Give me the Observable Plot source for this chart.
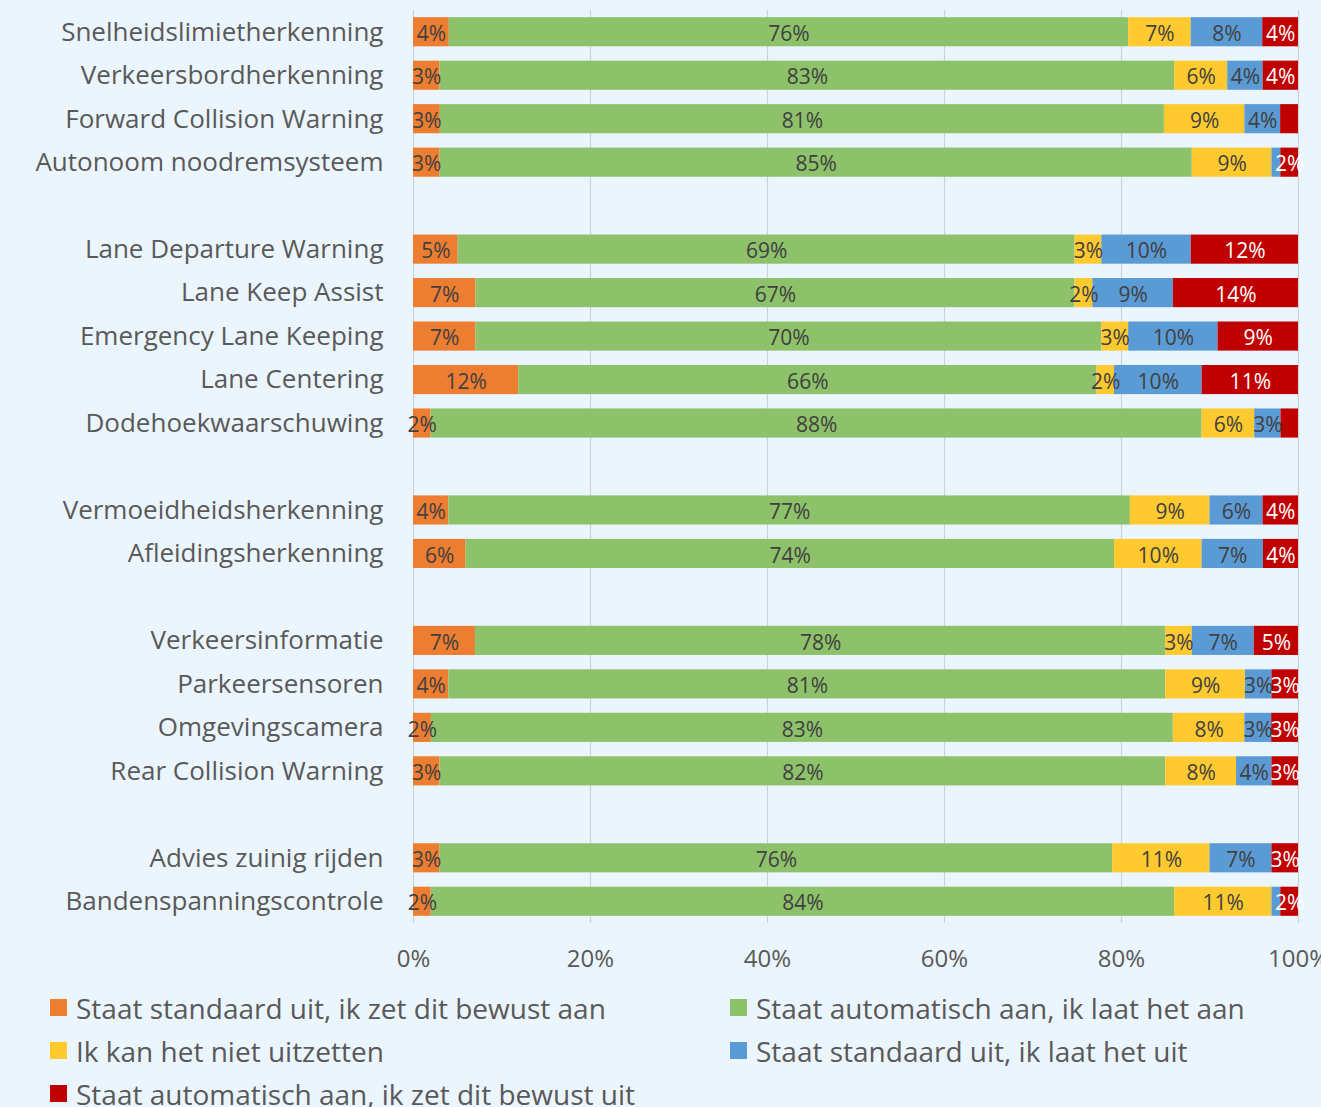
<!DOCTYPE html>
<html>
<head>
<meta charset="utf-8">
<script src="https://cdn.jsdelivr.net/npm/d3@7"></script>
<script src="https://cdn.jsdelivr.net/npm/@observablehq/plot@0.6"></script>
<style>
  html, body { margin: 0; padding: 0; background: #EBF5FD; }
  body { width: 1321px; height: 1107px; overflow: hidden; font-family: "Open Sans", sans-serif; }
  #legend { display: grid; grid-template-columns: 680px 580px; margin-left: 50px; margin-top: 8px; row-gap: 0; }
  .item { display: flex; align-items: center; height: 43px; font-size: 28px; color: #595959; white-space: nowrap; }
  .sw { width: 17px; height: 17px; margin-right: 9px; flex: none; }
</style>
</head>
<body>
<div id="chart"></div>
<div id="legend"></div>
<script>
// Categories (top to bottom); "gap" entries are blank spacer rows between groups
const categories = [
  "Snelheidslimietherkenning", "Verkeersbordherkenning", "Forward Collision Warning", "Autonoom noodremsysteem",
  "gap1",
  "Lane Departure Warning", "Lane Keep Assist", "Emergency Lane Keeping", "Lane Centering", "Dodehoekwaarschuwing",
  "gap2",
  "Vermoeidheidsherkenning", "Afleidingsherkenning",
  "gap3",
  "Verkeersinformatie", "Parkeersensoren", "Omgevingscamera", "Rear Collision Warning",
  "gap4",
  "Advies zuinig rijden", "Bandenspanningscontrole"
];
const features = categories.filter(c => !c.startsWith("gap"));

const seriesNames = [
  "Staat standaard uit, ik zet dit bewust aan",
  "Staat automatisch aan, ik laat het aan",
  "Ik kan het niet uitzetten",
  "Staat standaard uit, ik laat het uit",
  "Staat automatisch aan, ik zet dit bewust uit"
];
const seriesColors = ["#ED7D31", "#8DC26A", "#FFC930", "#5B9BD5", "#C00000"];

// Values per series, in the order of `features`
const standaardUitAan   = [4, 3, 3, 3, 5, 7, 7, 12, 2, 4, 6, 7, 4, 2, 3, 3, 2];
const automatischAan    = [76, 83, 81, 85, 69, 67, 70, 66, 88, 77, 74, 78, 81, 83, 82, 76, 84];
const nietUitzetten     = [7, 6, 9, 9, 3, 2, 3, 2, 6, 9, 10, 3, 9, 8, 8, 11, 11];
const standaardUitUit   = [8, 4, 4, 1, 10, 9, 10, 10, 3, 6, 7, 7, 3, 3, 4, 7, 1];
const automatischAanUit = [4, 4, 2, 2, 12, 14, 9, 11, 2, 4, 4, 5, 3, 3, 3, 3, 2];

// Segments drawn without a value label in the picture: [feature, series index]
const unlabeled = [
  ["Forward Collision Warning", 4],
  ["Autonoom noodremsysteem", 3],
  ["Dodehoekwaarschuwing", 4],
  ["Bandenspanningscontrole", 3]
];

const xTicks = [0, 0.2, 0.4, 0.6, 0.8, 1];

const seriesValues = [standaardUitAan, automatischAan, nietUitzetten, standaardUitUit, automatischAanUit];
const data = [];
features.forEach((f, i) => {
  seriesValues.forEach((vals, s) => {
    const hidden = unlabeled.some(([uf, us]) => uf === f && us === s);
    data.push({feature: f, series: seriesNames[s], si: s, value: vals[i], label: hidden ? "" : vals[i] + "%"});
  });
});

const chart = Plot.plot({
  width: 1321,
  height: 978,
  marginLeft: 413,
  marginRight: 23,
  marginTop: 10,
  marginBottom: 55,
  style: {background: "transparent", fontFamily: "Open Sans, sans-serif", color: "#595959", overflow: "visible"},
  x: {domain: [0, 1], label: null},
  y: {domain: categories, paddingInner: 0.33, paddingOuter: 0.165, align: 0.5, round: false, label: null},
  color: {domain: seriesNames, range: seriesColors},
  marks: [
    Plot.ruleX(xTicks, {stroke: "#CDD2D7", strokeWidth: 1.2}),
    Plot.barX(data, Plot.stackX({
      x: "value", y: "feature", fill: "series", offset: "normalize", order: null
    })),
    Plot.text(data, Plot.stackX({
      x: "value", y: "feature", text: "label", offset: "normalize", order: null,
      fill: d => d.si === 4 ? "#FFFFFF" : "#404040",
      fontSize: 21, dy: 2
    })),
    Plot.axisY({
      tickSize: 0, tickPadding: 30, fontSize: 26, label: null,
      tickFormat: d => d.startsWith("gap") ? "" : d
    }),
    Plot.axisX(xTicks, {
      tickSize: 0, tickPadding: 26, fontSize: 24, label: null, tickFormat: d3.format(".0%")
    })
  ]
});
document.getElementById("chart").appendChild(chart);

const legend = document.getElementById("legend");
seriesNames.forEach((name, i) => {
  const item = document.createElement("div");
  item.className = "item";
  const sw = document.createElement("span");
  sw.className = "sw";
  sw.style.background = seriesColors[i];
  const t = document.createElement("span");
  t.textContent = name;
  item.appendChild(sw);
  item.appendChild(t);
  legend.appendChild(item);
});
</script>
</body>
</html>
